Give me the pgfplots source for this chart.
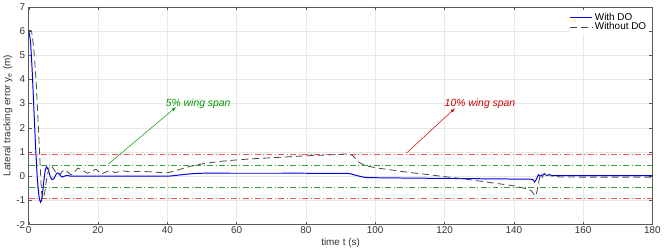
\documentclass[border=0pt]{standalone}
\usepackage{fontspec}
\setmainfont{Liberation Sans}
\usepackage{pgfplots}
\pgfplotsset{compat=1.18}
\definecolor{mblue}{RGB}{0,0,230}
\definecolor{mgrey}{RGB}{70,70,70}
\definecolor{refred}{RGB}{235,85,85}
\definecolor{refgreen}{RGB}{50,160,50}
\definecolor{tgreen}{RGB}{0,150,0}
\definecolor{tred}{RGB}{210,0,0}
\begin{document}
\begin{tikzpicture}
\begin{axis}[
  scale only axis,
  width=627bp, height=219bp,
  xmin=0, xmax=180, ymin=-2, ymax=7,
  xtick={0,20,...,180}, ytick={-2,-1,...,7},
  grid=major,
  major grid style={gray!18, line width=0.4pt},
  axis line style={gray!70!black, line width=0.4pt},
  tick style={gray!70!black},
  tick align=inside,
  major tick length=3bp,
  every tick label/.append style={font=\fontsize{10}{11}\selectfont, text=black!80},
  xticklabel style={yshift=1bp},
  /pgf/number format/assume math mode=true,
  xlabel={time t (s)},
  ylabel={Lateral tracking error y\textsubscript{e} (m)},
  label style={font=\fontsize{10}{11}\selectfont, text=black!80},
  xlabel style={yshift=3bp},
  ylabel style={yshift=-3bp},
  legend style={at={(0.995,0.985)}, anchor=north east, draw=none, fill=white,
    font=\fontsize{10}{11}\selectfont, row sep=-3pt, inner sep=1pt},
  legend cell align=left,
  legend image code/.code={\draw[#1] (0cm,0cm) -- (0.78cm,0cm);},
]
% reference lines
\addplot[refred, line width=0.7pt, dash pattern=on 6pt off 2.5pt on 1pt off 2.5pt, forget plot] coordinates {(0,0.9)(180,0.9)};
\addplot[refred, line width=0.7pt, dash pattern=on 6pt off 2.5pt on 1pt off 2.5pt, forget plot] coordinates {(0,-0.9)(180,-0.9)};
\addplot[refgreen, line width=0.7pt, dash pattern=on 6pt off 2.5pt on 1pt off 2.5pt, forget plot] coordinates {(0,0.45)(180,0.45)};
\addplot[refgreen, line width=0.7pt, dash pattern=on 6pt off 2.5pt on 1pt off 2.5pt, forget plot] coordinates {(0,-0.45)(180,-0.45)};
% With DO
\addplot[mblue, line width=1pt, smooth, tension=0.3] coordinates {
(0,6)(0.5,5.6)(1,4.4)(1.5,2.8)(2,1.2)(2.5,-0.1)(3,-0.85)(3.4,-1.08)(3.8,-0.95)(4.3,-0.3)(4.8,0.25)(5.2,0.38)(5.7,0.25)(6.2,0.0)(6.7,-0.14)(7.2,-0.12)(7.7,0.02)(8.2,0.13)(8.7,0.12)(9.2,0.02)(9.7,-0.04)(10.3,0.0)(11,0.03)(11.8,0.01)(12.5,0)(20,0)(30,0)(40,0)(43,0.04)(47,0.1)(50,0.12)(60,0.12)(70,0.12)(80,0.12)(92,0.11)(94,0.05)(96,-0.02)(98,-0.06)(110,-0.08)(125,-0.1)(140,-0.12)(145.3,-0.13)(146,-0.24)(146.6,-0.1)(147.1,0.06)(147.6,0.0)(148.2,0.05)(148.8,0.08)(149.5,0.03)(150.3,0.06)(151,0.03)(153,0.02)(160,0.02)(180,0.02)};
\addlegendentry{With DO}
% Without DO
\addplot[mgrey, line width=0.8pt, dash pattern=on 7pt off 4pt, smooth, tension=0.3] coordinates {
(0,6)(0.8,6)(1.5,5.2)(2.2,3.8)(2.8,2.0)(3.3,0.5)(3.7,-0.6)(4.1,-0.93)(4.6,-0.7)(5.2,-0.1)(5.9,0.35)(6.5,0.44)(7.2,0.3)(8.0,0.1)(8.9,0.05)(9.6,0.18)(10.3,0.26)(11.2,0.18)(12.3,0.05)(13.3,0.18)(14.2,0.33)(15.5,0.25)(17,0.12)(18.2,0.2)(19.4,0.28)(20.9,0.1)(22,0.15)(23.3,0.23)(25,0.15)(27,0.22)(29,0.18)(32,0.2)(35,0.18)(38,0.15)(40,0.14)(43,0.25)(46,0.38)(49,0.48)(52,0.55)(56,0.62)(60,0.67)(65,0.72)(70,0.76)(75,0.8)(80,0.84)(85,0.87)(90,0.9)(92,0.92)(93.5,0.85)(95,0.6)(97,0.45)(100,0.35)(105,0.25)(110,0.15)(115,0.07)(120,-0.02)(125,-0.1)(130,-0.2)(135,-0.3)(140,-0.4)(143,-0.5)(145,-0.6)(146.3,-0.82)(147,-0.4)(147.6,0.05)(148.2,-0.05)(148.8,0.12)(149.5,-0.02)(150.2,0.08)(151,0.0)(152,0.02)(153,-0.03)(160,-0.04)(170,-0.04)(180,-0.04)};
\addlegendentry{Without DO}
% annotations
\draw[-latex, tgreen, line width=0.5pt] (axis cs:23,0.5) -- (axis cs:42.5,2.85);
\node[tgreen, anchor=south west, font=\itshape\fontsize{10.5}{11}\selectfont, inner sep=0pt] at (axis cs:39.5,2.8) {5\% wing span};
\draw[-latex, tred, line width=0.5pt] (axis cs:109,0.95) -- (axis cs:123,2.8);
\node[tred, anchor=south west, font=\itshape\fontsize{10.5}{11}\selectfont, inner sep=0pt] at (axis cs:120,2.8) {10\% wing span};
\end{axis}
\end{tikzpicture}
\end{document}
